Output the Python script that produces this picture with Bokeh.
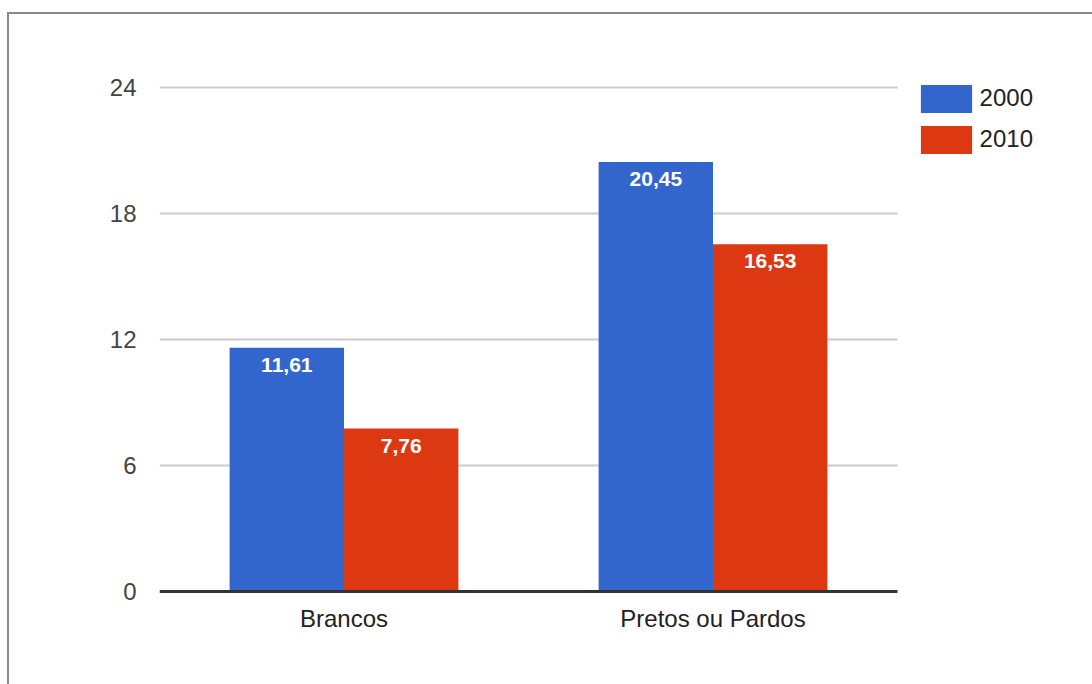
from bokeh.plotting import figure
from bokeh.models import ColumnDataSource, Range1d, Legend, LegendItem, FixedTicker
from bokeh.embed import file_html
from bokeh.resources import INLINE
from bokeh.core.properties import value

categories = ["Brancos", "Pretos ou Pardos"]
years = ["2000", "2010"]
values_2000 = [11.61, 20.45]
values_2010 = [7.76, 16.53]
labels_2000 = ["11,61", "20,45"]
labels_2010 = ["7,76", "16,53"]
y_ticks = [0, 6, 12, 18, 24]

FONT = "Liberation Sans"
BLUE = "#3366cc"
RED = "#dc3912"

n = len(categories)
cat_pos = [i + 0.5 for i in range(n)]
bw = 0.31
off = 0.155
src = ColumnDataSource(dict(cat=categories, pos=cat_pos,
                            x2000=[c - off for c in cat_pos], x2010=[c + off for c in cat_pos],
                            v2000=values_2000, v2010=values_2010,
                            l2000=labels_2000, l2010=labels_2010))

OX, OY = 9, 14  # canvas offset on the page
W, H = 1085, 672
FL, FR, FT, FB = 159 - OX, W, 84 - OY, 593 - OY  # frame edges in canvas px
PX_PER_CAT = 369.0
PX_PER_UNIT = 21.0
p = figure(width=W, height=H,
           x_range=Range1d(0, (FR - FL) / PX_PER_CAT),
           y_range=Range1d(-2 / PX_PER_UNIT, 24 + 3 / PX_PER_UNIT),
           output_backend="svg", toolbar_location=None,
           min_border_left=FL, min_border_right=0,
           min_border_top=FT, min_border_bottom=H - FB)
p.margin = (12, 0, 0, 7)
p.styles = {"border-top": "2px solid #888888", "border-left": "2px solid #888888"}
p.outline_line_color = None
p.background_fill_color = "white"
p.border_fill_color = "white"
p.xgrid.grid_line_color = None
p.ygrid.grid_line_color = None

# gridlines over the category span
p.segment(x0=0, x1=n, y0=y_ticks[1:], y1=y_ticks[1:], line_color="#cccccc", line_width=2)

r1 = p.vbar(x="x2000", top="v2000", width=bw, source=src, fill_color=BLUE, line_color=None)
r2 = p.vbar(x="x2010", top="v2010", width=bw, source=src, fill_color=RED, line_color=None)

# baseline
p.segment(x0=0, x1=n, y0=0, y1=0, line_color="#333333", line_width=3)

for xcol, col, lab in (("x2000", "v2000", "l2000"), ("x2010", "v2010", "l2010")):
    p.text(x=xcol, y=col, text=lab, source=src,
           text_align="center", text_baseline="top", y_offset=10,
           text_color="white", text_font=value(FONT), text_font_style="bold",
           text_font_size="21px")

# axes
p.yaxis.ticker = FixedTicker(ticks=y_ticks)
p.yaxis.axis_line_color = None
p.yaxis.major_tick_line_color = None
p.yaxis.minor_tick_line_color = None
p.yaxis.major_label_standoff = 17
p.yaxis.major_label_text_font = FONT
p.yaxis.major_label_text_font_size = "24px"
p.yaxis.major_label_text_color = "#444444"

p.xaxis.ticker = FixedTicker(ticks=cat_pos)
p.xaxis.major_label_overrides = {c: name for c, name in zip(cat_pos, categories)}
p.xaxis.axis_line_color = None
p.xaxis.major_tick_line_color = None
p.xaxis.minor_tick_line_color = None
p.xaxis.major_label_standoff = 5
p.xaxis.major_label_text_font = FONT
p.xaxis.major_label_text_font_size = "24px"
p.xaxis.major_label_text_color = "#222222"

legend = Legend(items=[LegendItem(label=years[0], renderers=[r1]),
                       LegendItem(label=years[1], renderers=[r2])],
                location=(754.6, 436.5), orientation="vertical",
                glyph_width=64, glyph_height=35, label_height=35, spacing=6,
                padding=0, margin=0, border_line_color=None, background_fill_alpha=0,
                label_text_font=FONT, label_text_font_size="24px", label_text_color="#222222",
                label_standoff=2)
p.add_layout(legend, "center")

open("out.html", "w").write(file_html(p, INLINE))
